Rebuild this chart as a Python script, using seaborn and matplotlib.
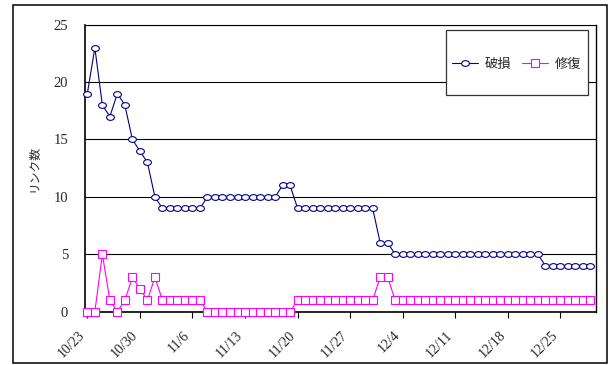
import numpy as np
import pandas as pd
import matplotlib
matplotlib.use("Agg")
import matplotlib.pyplot as plt
from matplotlib.path import Path
from matplotlib.patches import Rectangle
import seaborn as sns

# 日ごとのリンク数 (10/23 から 12/29 まで)
days = list(range(68))
damaged = [19, 23, 18, 17, 19, 18, 15, 14, 13, 10, 9, 9, 9, 9, 9, 9, 10, 10,
           10, 10, 10, 10, 10, 10, 10, 10, 11, 11,
           9, 9, 9, 9, 9, 9, 9, 9, 9, 9, 9, 6, 6,
           5, 5, 5, 5, 5, 5, 5, 5, 5, 5, 5, 5, 5, 5, 5, 5, 5, 5, 5, 5,
           4, 4, 4, 4, 4, 4, 4]
repaired = [0, 0, 5, 1, 0, 1, 3, 2, 1, 3, 1, 1, 1, 1, 1, 1, 0, 0,
            0, 0, 0, 0, 0, 0, 0, 0, 0, 0,
            1, 1, 1, 1, 1, 1, 1, 1, 1, 1, 1, 3, 3,
            1, 1, 1, 1, 1, 1, 1, 1, 1, 1, 1, 1, 1, 1, 1, 1, 1, 1, 1, 1,
            1, 1, 1, 1, 1, 1, 1]
tick_days = [0, 7, 14, 21, 28, 35, 42, 49, 56, 63]
tick_labels = ["10/23", "10/30", "11/6", "11/13", "11/20", "11/27",
               "12/4", "12/11", "12/18", "12/25"]

df = pd.DataFrame({"day": days, "破損": damaged, "修復": repaired})

sns.set_style("white")
plt.rcParams["font.family"] = ["Noto Sans CJK JP", "DejaVu Sans"]

fig = plt.figure(figsize=(6.11, 3.65), dpi=100)
ax = fig.add_axes([84.7 / 611, 1 - 311.7 / 365, 511 / 611, 287 / 365])

# 横長の楕円マーカー
t = np.linspace(0, 2 * np.pi, 41)
ellipse = Path(np.column_stack([np.cos(t), 0.74 * np.sin(t)]), closed=True)

sns.lineplot(data=df, x="day", y="破損", ax=ax, color="#000080", lw=0.8,
             marker=ellipse, markersize=5.6, markerfacecolor="white",
             markeredgecolor="#000080", markeredgewidth=0.8,
             label="破損", clip_on=False, zorder=3)
sns.lineplot(data=df, x="day", y="修復", ax=ax, color="#FF00FF", lw=0.8,
             marker="s", markersize=5.2, markerfacecolor="white",
             markeredgecolor="#FF00FF", markeredgewidth=0.8,
             label="修復", clip_on=False, zorder=3)

ax.set_xlim(-0.35, 67.7)
ax.set_ylim(0, 25)
ax.set_yticks([0, 5, 10, 15, 20, 25])
ax.set_xticks(tick_days)
ax.set_xticklabels(tick_labels, rotation=45, ha="right",
                   family="Liberation Serif", fontsize=10)
for lab in ax.get_yticklabels():
    lab.set_family("Liberation Serif")
    lab.set_fontsize(10.5)
ax.tick_params(axis="x", direction="out", length=4, width=0.8, pad=8,
               bottom=True, color="black")
ax.tick_params(axis="y", length=0, pad=12)
ax.yaxis.grid(True, color="black", lw=0.8)
ax.xaxis.grid(False)
ax.set_xlabel("")
ax.set_ylabel("リンク数", fontsize=8.5, labelpad=10)
for side in ["left", "bottom", "right", "top"]:
    ax.spines[side].set_visible(True)
    ax.spines[side].set_color("black")
ax.spines["left"].set_linewidth(1.2)
ax.spines["bottom"].set_linewidth(1.2)
ax.spines["right"].set_linewidth(1.0)
ax.spines["top"].set_linewidth(0.8)

# 凡例の枠
ax.add_patch(Rectangle((0.707, 0.755), 0.277, 0.2265, transform=ax.transAxes,
                       facecolor="white", edgecolor="#333333", lw=0.9,
                       zorder=4, clip_on=False))
leg = ax.legend(loc="center", bbox_to_anchor=(0.845, 0.862), ncol=2,
                frameon=False, fontsize=9.5, handlelength=2.0,
                handletextpad=0.5, columnspacing=0.8)
leg.set_zorder(5)

# 図全体の枠
fig.patches.append(Rectangle((12.5 / 611, 1 - 362.5 / 365), 594 / 611,
                             357.5 / 365, transform=fig.transFigure,
                             fill=False, edgecolor="black", lw=1.1))

fig.savefig("out.png", dpi=100)
